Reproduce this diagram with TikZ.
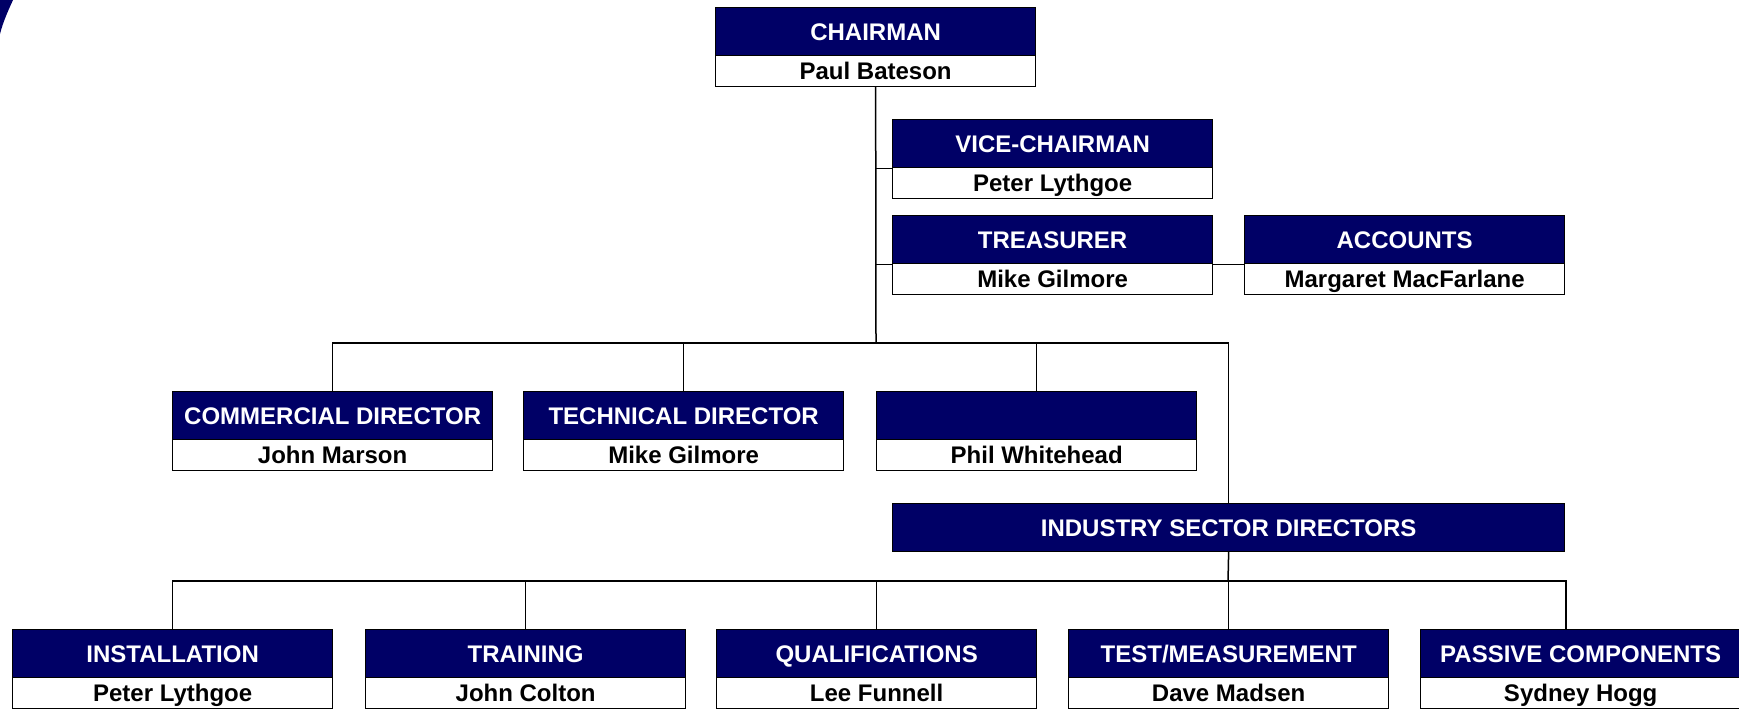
\documentclass[tikz,border=0pt]{standalone}
\usepackage{fontspec}
\setmainfont{Liberation Sans}
\definecolor{navyc}{RGB}{0,0,102}
\begin{document}
\begin{tikzpicture}[x=1pt,y=-1pt,
  hdr/.style={draw=black, line width=1.3pt, fill=navyc, text=white,
    font=\bfseries\fontsize{24}{26}\selectfont, minimum width=320pt, minimum height=48pt,
    inner sep=0pt, anchor=north west, text height=17pt, text depth=0pt},
  nm/.style={draw=black, line width=1.3pt, fill=white, text=black,
    font=\bfseries\fontsize{24}{26}\selectfont, minimum width=320pt, minimum height=31pt,
    inner sep=0pt, anchor=north west, text height=17pt, text depth=0pt},
  conn/.style={draw=black, line width=1.5pt, line cap=rect}]
\useasboundingbox (0,0) rectangle (1739,710);
% corner decoration
\fill[navyc] (0,0) -- (13,0) .. controls (8,11) and (3,22) .. (0,34) -- cycle;

\coordinate (j1) at (876,343);
\coordinate (j2) at (1228,581);
\coordinate (patop) at (1566,629);

% boxes
\node[hdr] (ch-h) at (715,7) {CHAIRMAN};
\node[nm] (ch-n) at (715,55) {Paul Bateson};
\node[hdr] (vc-h) at (892,119) {VICE-CHAIRMAN};
\node[nm] (vc-n) at (892,167) {Peter Lythgoe};
\node[hdr] (tr-h) at (892,215) {TREASURER};
\node[nm] (tr-n) at (892,263) {Mike Gilmore};
\node[hdr] (ac-h) at (1244,215) {ACCOUNTS};
\node[nm] (ac-n) at (1244,263) {Margaret MacFarlane};

\node[hdr] (cm-h) at (172,391) {COMMERCIAL DIRECTOR};
\node[nm] (cm-n) at (172,439) {John Marson};
\node[hdr] (te-h) at (523,391) {TECHNICAL DIRECTOR};
\node[nm] (te-n) at (523,439) {Mike Gilmore};
\node[hdr] (ph-h) at (876,391) {};
\node[nm] (ph-n) at (876,439) {Phil Whitehead};

\node[hdr, minimum width=672pt] (id-h) at (892,503) {INDUSTRY SECTOR DIRECTORS};

\node[hdr] (in-h) at (12,629) {INSTALLATION};
\node[nm] (in-n) at (12,677) {Peter Lythgoe};
\node[hdr] (tg-h) at (365,629) {TRAINING};
\node[nm] (tg-n) at (365,677) {John Colton};
\node[hdr] (qu-h) at (716,629) {QUALIFICATIONS};
\node[nm] (qu-n) at (716,677) {Lee Funnell};
\node[hdr] (ts-h) at (1068,629) {TEST/MEASUREMENT};
\node[nm] (ts-n) at (1068,677) {Dave Madsen};
\node[hdr] (pa-h) at (1420,629) {PASSIVE COMPONENTS};
\node[nm] (pa-n) at (1420,677) {Sydney Hogg};

% connectors
\draw[conn] (ch-n.south) -- (j1);
\draw[conn] (vc-h.south west) -- (vc-h.south west -| j1);
\draw[conn] (tr-h.south west) -- (tr-h.south west -| j1);
\draw[conn] (tr-h.south east) -- (ac-h.south west);
\draw[conn] (cm-h.north) |- (j1) -| (id-h.north);
\draw[conn] (te-h.north) -- (te-h.north |- j1);
\draw[conn] (ph-h.north) -- (ph-h.north |- j1);
\draw[conn] (id-h.south) -- (j2);
\draw[conn] (in-h.north) |- (j2) -| (patop);
\draw[conn] (tg-h.north) -- (tg-h.north |- j2);
\draw[conn] (qu-h.north) -- (qu-h.north |- j2);
\draw[conn] (ts-h.north) -- (ts-h.north |- j2);
\end{tikzpicture}
\end{document}
